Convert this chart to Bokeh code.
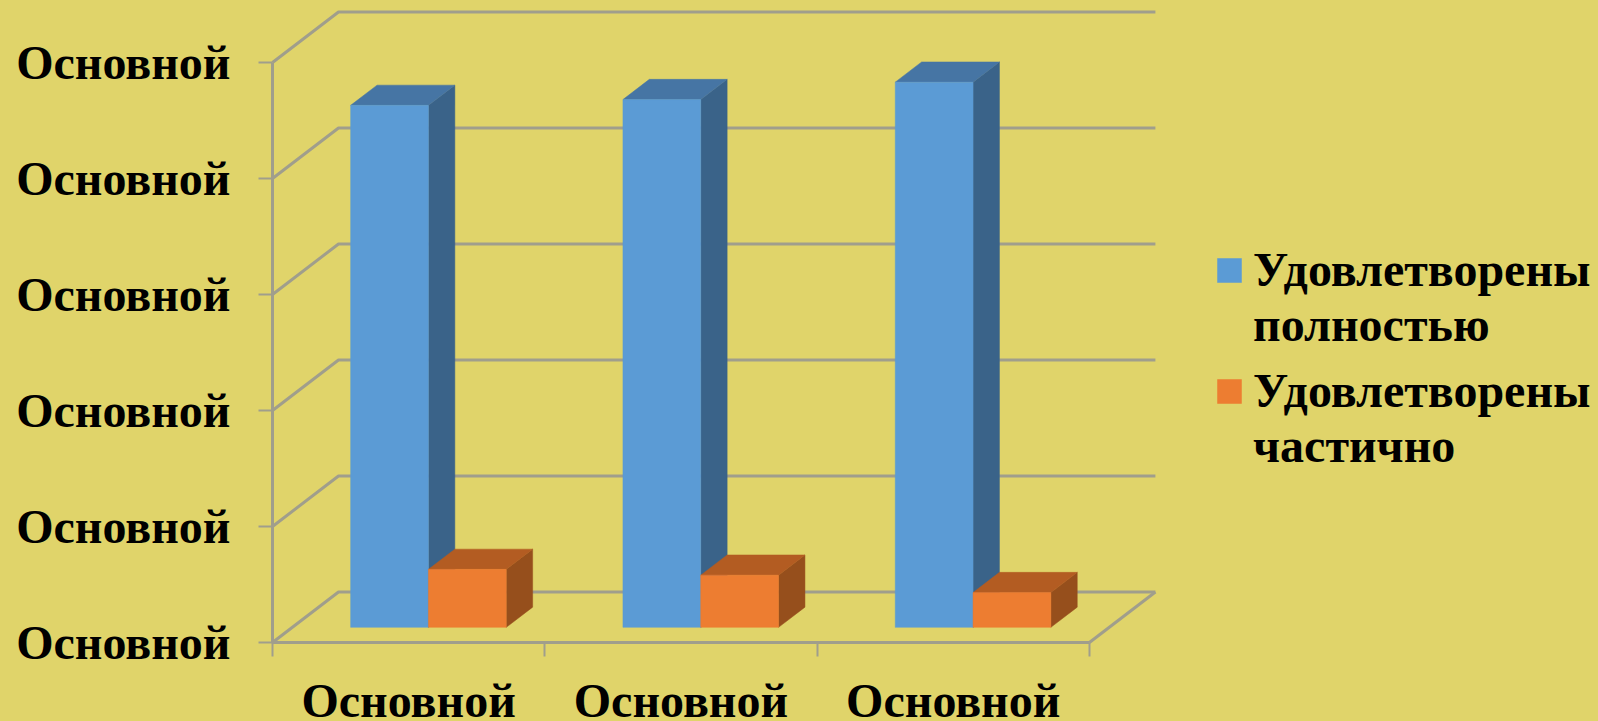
from bokeh.plotting import figure
from bokeh.embed import file_html
from bokeh.resources import INLINE
from bokeh.models import FixedTicker, Legend, LegendItem, Range1d

# --- data ---
x_labels = ["Основной", "Основной", "Основной"]
y_labels = ["Основной"] * 6
y_ticks = [0, 1, 2, 3, 4, 5]
series_full = [4.5, 4.55, 4.7]
series_part = [0.5, 0.45, 0.3]
legend_full = ["Удовлетворены", "полностью"]
legend_part = ["Удовлетворены", "частично"]

# --- style ---
BG = "#E0D46A"
GRID = "#A09E8C"
FONT = "Liberation Serif"
WIDTH, HEIGHT = 1598, 721
LEFT, BASE = 272, 642
PX_X, PX_Y = 272.3, 116.0       # pixels per category / per value unit
DX, DY = 66 / PX_X, 50.5 / PX_Y # oblique projection of full depth

def proj(x, y, d):
    return x + d * DX, y + d * DY

p = figure(width=WIDTH, height=HEIGHT, output_backend="svg", toolbar_location=None,
           x_range=Range1d(-LEFT / PX_X, (WIDTH - LEFT) / PX_X),
           y_range=Range1d(-(HEIGHT - BASE) / PX_Y, BASE / PX_Y),
           min_border=0, background_fill_color=BG, border_fill_color=BG,
           outline_line_color=None)
p.grid.visible = False

# back wall, side wall and floor lines
n_cat = len(x_labels)
gx, gy = [], []
for t in y_ticks:
    x0, y0 = proj(0, t, 0)
    x1, y1 = proj(0, t, 1)
    x2, y2 = proj(n_cat, t, 1)
    gx.append([x0, x1, x2]); gy.append([y0, y1, y2])
fx0, fy0 = proj(n_cat, 0, 0)
fx1, fy1 = proj(n_cat, 0, 1)
gx.append([fx0, fx1]); gy.append([fy0, fy1])
p.multi_line(gx, gy, line_color=GRID, line_width=3)

# 3D bars
BAR_W = 1 / 3.5
D0, D1 = 0.3, 0.7
def draw_series(values, offset, front, top, side):
    fl, fr, fb, ft = [], [], [], []
    for i, v in enumerate(values):
        l = i + 0.5 + offset * BAR_W
        r = l + BAR_W
        a = [proj(l, 0, D0), proj(r, 0, D0), proj(r, v, D0), proj(l, v, D0)]
        fl.append(a[0][0]); fr.append(a[1][0]); fb.append(a[0][1]); ft.append(a[2][1])
        s = [proj(r, 0, D0), proj(r, 0, D1), proj(r, v, D1), proj(r, v, D0)]
        u = [proj(l, v, D0), proj(r, v, D0), proj(r, v, D1), proj(l, v, D1)]
        p.patch([q[0] for q in s], [q[1] for q in s], fill_color=side, line_color=side, line_width=0.5)
        p.patch([q[0] for q in u], [q[1] for q in u], fill_color=top, line_color=top, line_width=0.5)
    return p.quad(left=fl, right=fr, bottom=fb, top=ft, fill_color=front, line_color=front, line_width=0.5)

r_full = draw_series(series_full, -1, "#5B9BD5", "#4675A4", "#3A6389")
r_part = draw_series(series_part, 0, "#ED7D31", "#B35C22", "#964F1C")

# axes
for ax in (p.xaxis[0], p.yaxis[0]):
    ax.fixed_location = 0
    ax.axis_line_color = GRID
    ax.axis_line_width = 3
    ax.major_label_text_font = FONT
    ax.major_label_text_font_style = "bold"
    ax.major_label_text_font_size = "48px"
    ax.major_label_text_color = "#000000"
    ax.major_tick_line_color = GRID
    ax.major_tick_line_width = 2
    ax.minor_tick_line_color = GRID
    ax.minor_tick_line_width = 2

xa, ya = p.xaxis[0], p.yaxis[0]
xa.bounds = (0, n_cat)
ya.bounds = (0, y_ticks[-1])
xa.ticker = FixedTicker(ticks=[i + 0.5 for i in range(n_cat)], minor_ticks=list(range(n_cat + 1)))
xa.major_label_overrides = {i + 0.5: s for i, s in enumerate(x_labels)}
xa.major_tick_in = 0
xa.major_tick_out = 0
xa.minor_tick_in = 0
xa.minor_tick_out = 14
xa.major_label_standoff = 17
ya.ticker = FixedTicker(ticks=y_ticks)
ya.major_label_overrides = {t: s for t, s in zip(y_ticks, y_labels)}
ya.major_tick_in = 0
ya.major_tick_out = 14
ya.minor_tick_out = 0
ya.minor_tick_in = 0
ya.major_label_standoff = 28

def make_legend(lines, renderer, bottom):
    leg = Legend(items=[LegendItem(label=lines[0], renderers=[renderer]),
                        LegendItem(label=lines[1], renderers=[])],
                 location=(1214, bottom), background_fill_alpha=0, border_line_alpha=0,
                 padding=0, margin=0, spacing=0, glyph_width=30, glyph_height=30,
                 label_standoff=9, label_height=55, label_text_font=FONT,
                 label_text_font_style="bold", label_text_font_size="48px",
                 label_text_color="#000000")
    p.add_layout(leg)

make_legend(legend_full, r_full, 369)
make_legend(legend_part, r_part, 248)

html = file_html(p, INLINE)
html = html.replace("<head>", f"<head><style>html,body{{margin:0;padding:0;background:{BG};overflow:hidden}}</style>", 1)
open("out.html", "w").write(html)
